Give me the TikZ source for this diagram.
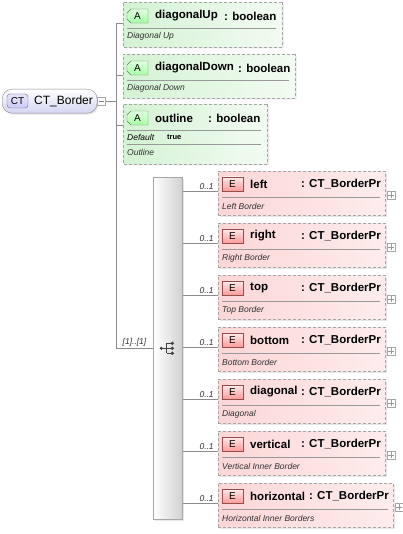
\documentclass[tikz,border=0pt]{standalone}
\usepackage{fontspec}
\setmainfont{Liberation Sans}
\usetikzlibrary{shapes.misc,shadows}

\definecolor{boxgray}{HTML}{A6A6A6}
\definecolor{attrgreen}{HTML}{D4F2D4}
\definecolor{elempink}{HTML}{FCD6D6}
\definecolor{rootlav}{HTML}{D4D4F2}
\definecolor{docgray}{HTML}{303030}

\begin{document}
\begin{tikzpicture}[x=1pt,y=-1pt]
	\tikzstyle{every node}=[inner sep=0pt]
	\tikzstyle{shade box}=[drop shadow={shadow xshift=1.5pt,shadow yshift=-1.5pt,opacity=0.18}]
	\tikzstyle{dash line}=[draw=boxgray,dash pattern=on 3pt off 2pt,line width=0.7pt]
	\tikzstyle{attr box}=[chamfered rectangle,chamfered rectangle xsep=3pt,chamfered rectangle ysep=3pt,dash line,shade box,left color=attrgreen,right color=attrgreen!30!white]
	\tikzstyle{elem box}=[rectangle,dash line,shade box,left color=elempink,right color=elempink!45!white,anchor=north west,minimum height=44pt]
	\tikzstyle{a badge}=[chamfered rectangle,chamfered rectangle corners={north west,south west},chamfered rectangle xsep=2pt,chamfered rectangle ysep=2pt,draw=green!35!black!70,top color=green!12!white,bottom color=green!35!white,minimum width=21pt,minimum height=14pt,font=\fontsize{10}{11}\selectfont]
	\tikzstyle{e badge}=[rectangle,draw=red!40!black!70,top color=red!8!white,bottom color=red!40!white,minimum width=21pt,minimum height=14pt,font=\fontsize{10}{11}\selectfont]
	\tikzstyle{expander}=[rectangle,draw=black!35,fill=white,minimum size=8pt,line width=0.5pt]
	\tikzstyle{name text}=[anchor=west,font=\fontsize{11.5}{13}\selectfont\bfseries]
	\tikzstyle{doc text}=[anchor=west,text=docgray,font=\fontsize{8.5}{10}\selectfont\itshape]
	\tikzstyle{mult}=[text=docgray,font=\fontsize{8.5}{10}\selectfont\itshape]
	\tikzstyle{sep line}=[draw=black!40,line width=0.6pt]
	\tikzstyle{conn}=[draw=black!45,line width=0.6pt]

	\useasboundingbox (0,0) rectangle (402,534);

	% Root complex type
	\node[rectangle,rounded corners=10pt,draw=rootlav!50!black!80,top color=white,bottom color=rootlav,minimum width=95pt,minimum height=24pt,anchor=north west,shade box] (root) at (2,89) {};
	\node[rectangle,rounded corners=3pt,draw=blue!30!black!60,top color=rootlav!60!white,bottom color=rootlav!80!blue!60,minimum width=21pt,minimum height=14pt,font=\fontsize{10}{11}\selectfont] (root-b) at (17.5,101) {CT};
	\node[anchor=west,font=\fontsize{12}{14}\selectfont] (root-n) at (34,101) {CT\_Border};
	\node[expander] (root-x) at (101.5,101) {};
	\draw[black!50,line width=0.6pt] ([xshift=1.5pt]root-x.west) -- ([xshift=-1.5pt]root-x.east);

	% Trunk
	\coordinate (trunk-top) at (116,23);
	\coordinate (trunk-bot) at (116,348);
	\draw[conn] (root-x.east) -- (root-x.east -| trunk-top);
	\draw[conn] (trunk-top) -- (trunk-bot);

	% Attributes
	\foreach \nm/\ytop/\w/\h/\tx/\doc in {diagonalUp/2/159/45/224/Diagonal Up,diagonalDown/54/172/44/238/Diagonal Down}
	{
		\node[attr box,minimum width=\w pt,minimum height=\h pt] (A-\nm) at ({123+\w/2},{\ytop+\h/2}) {};
		\node[a badge] (Ab-\nm) at (137.5,\ytop+14) {A};
		\node[name text] (An-\nm) at (155,\ytop+14) {\nm};
		\node[name text] (At-\nm) at (\tx,\ytop+14) {: boolean};
		\draw[sep line] (127,\ytop+26) -- ({123+\w-6},\ytop+26);
		\node[doc text] (Ad-\nm) at (127,\ytop+34) {\doc};
		\coordinate (Ap-\nm) at (123,\ytop+21);
		\draw[conn] (trunk-top |- Ap-\nm) -- (Ap-\nm);
	}

	% outline attribute with default value
	\node[attr box,minimum width=144pt,minimum height=60pt] (A-outline) at (195,134) {};
	\node[a badge] (Ab-outline) at (137.5,118) {A};
	\node[name text] (An-outline) at (155,118) {outline};
	\node[name text] (At-outline) at (208,118) {: boolean};
	\draw[sep line] (127,130) -- (261,130);
	\node[doc text,text=black] (Ad-default) at (127,137.5) {Default};
	\node[anchor=west,font=\fontsize{7.5}{9}\selectfont\bfseries] (Ad-true) at (167,137) {true};
	\draw[sep line] (127,144) -- (261,144);
	\node[doc text] (Ad-outline) at (127,152) {Outline};
	\coordinate (Ap-outline) at (123,125);
	\draw[conn] (trunk-top |- Ap-outline) -- (Ap-outline);

	% Sequence compositor
	\node[rectangle,draw=black!35,line width=0.6pt,left color=white,right color=black!18,minimum width=29pt,minimum height=342pt,anchor=north west,shade box] (seq) at (153,177) {};
	\coordinate (sq) at ([xshift=-1pt]seq.center);
	\draw[black!75,line width=0.8pt] (sq) ++(-5,0) -- ++(5,0) ++(0,-5) -- ++(0,10) ++(0,-10) -- ++(5,0) ++(-5,5) -- ++(5,0) ++(-5,5) -- ++(5,0);
	\fill[black!75] (sq) ++(-5.5,0) circle (1.7pt);
	\foreach \dy in {-5,0,5}
		\fill[black!75] (sq) ++(5.5,\dy) circle (1.8pt);
	\draw[conn] (trunk-bot) -- (seq.west |- trunk-bot) node[mult,midway,above,yshift=1.5pt] {[1]..[1]};

	% Elements
	\foreach \i/\nm/\doc/\w in {0/left/Left Border/167,1/right/Right Border/167,2/top/Top Border/167,3/bottom/Bottom Border/167,4/diagonal/Diagonal/167,5/vertical/Vertical Inner Border/167,6/horizontal/Horizontal Inner Borders/175}
	{
		\pgfmathsetmacro\ytop{171+52*\i}
		\node[elem box,minimum width=\w pt] (E-\nm) at (218,\ytop) {};
		\node[e badge] (Eb-\nm) at (232.5,\ytop+13) {E};
		\node[name text] (En-\nm) at (250,\ytop+13) {\nm};
		\node[name text,anchor=east] (Et-\nm) at ({218+\w-4},\ytop+13) {: CT\_BorderPr};
		\draw[sep line] (222,\ytop+26) -- ({218+\w-5},\ytop+26);
		\node[doc text] (Ed-\nm) at (222,\ytop+35) {\doc};
		\node[expander] (Ex-\nm) at ({218+\w+6},\ytop+24) {};
		\draw[black!40,line width=0.5pt] ([xshift=1.5pt]Ex-\nm.west) -- ([xshift=-1.5pt]Ex-\nm.east)
			([yshift=-1.5pt]Ex-\nm.north) -- ([yshift=1.5pt]Ex-\nm.south);
		\coordinate (Ep-\nm) at (218,\ytop+20);
		\draw[conn] (seq.east |- Ep-\nm) -- (Ep-\nm) node[mult,pos=1,above left,xshift=-4pt,yshift=1.5pt] {0..1};
	}
\end{tikzpicture}
\end{document}
